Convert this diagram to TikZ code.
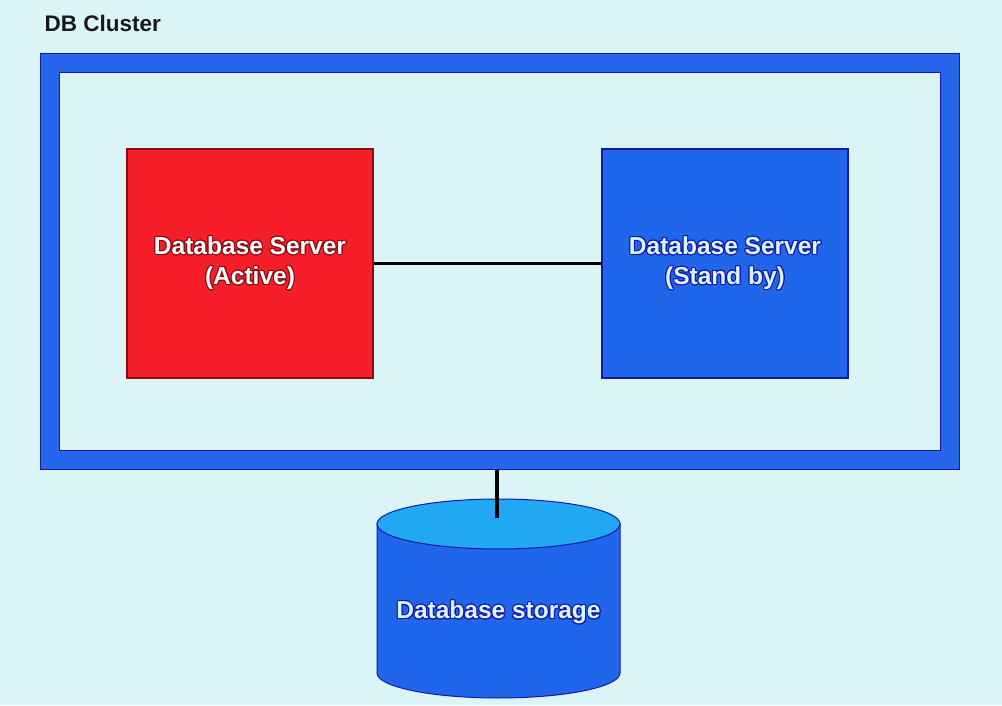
\documentclass[tikz,border=0pt]{standalone}
\usepackage{fontspec}
\setmainfont{Liberation Sans}
\usepackage{contour}
\contourlength{1pt}
\contournumber{20}
\definecolor{bgc}{RGB}{218,244,248}
\definecolor{frameblue}{RGB}{38,102,236}
\definecolor{edgeblue}{RGB}{22,24,170}
\definecolor{actred}{RGB}{246,30,40}
\definecolor{edgered}{RGB}{140,10,20}
\definecolor{boxblue}{RGB}{32,102,234}
\definecolor{cyltop}{RGB}{32,168,242}
\definecolor{lighttext}{RGB}{215,246,255}
\tikzset{
  server/.style={rectangle, minimum width=246pt, minimum height=229pt, inner sep=0pt, line width=1.2pt, align=center, font=\bfseries\fontsize{24.5}{30}\selectfont},
  wire/.style={black, line width=3.5pt},
}
\begin{document}
\begin{tikzpicture}[x=1pt,y=1pt]
\fill[bgc] (0,0) rectangle (1002,705);
\useasboundingbox (0,0) rectangle (1002,705);
\node[anchor=base west, font=\bfseries\fontsize{22.5}{26}\selectfont, text=black!90] (title) at (41,673) {DB Cluster};
\node[rectangle, draw=edgeblue, line width=1pt, double=frameblue, double distance=18pt, minimum width=900pt, minimum height=397pt, inner sep=0pt, outer sep=10pt, fill=bgc] (cluster) at (500,443.5) {};
\node[server, fill=actred, draw=edgered, text=white] (active) at (250,441.5) {\contour{edgered}{Database Server}\\\contour{edgered}{(Active)}};
\node[server, fill=boxblue, draw=edgeblue, text=lighttext] (standby) at (725,441.5) {\contour{edgeblue}{Database Server}\\\contour{edgeblue}{(Stand by)}};
\draw[wire] (active.east) -- (standby.west);
% storage cylinder
\fill[boxblue, draw=edgeblue, line width=1pt] (377,181) -- (377,32) arc[start angle=180, end angle=360, x radius=121.5, y radius=25] -- (620,181) -- cycle;
\fill[cyltop, draw=edgeblue, line width=1pt] (498.5,181) ellipse[x radius=121.5, y radius=25];
\node[font=\bfseries\fontsize{24.5}{30}\selectfont, text=lighttext, inner sep=0pt] (storage) at (498.5,92) {\contour{edgeblue}{Database storage}};
\coordinate (storetop) at (497,187);
\draw[wire, line width=4pt] (storetop |- cluster.south) -- (storetop);
\end{tikzpicture}
\end{document}
